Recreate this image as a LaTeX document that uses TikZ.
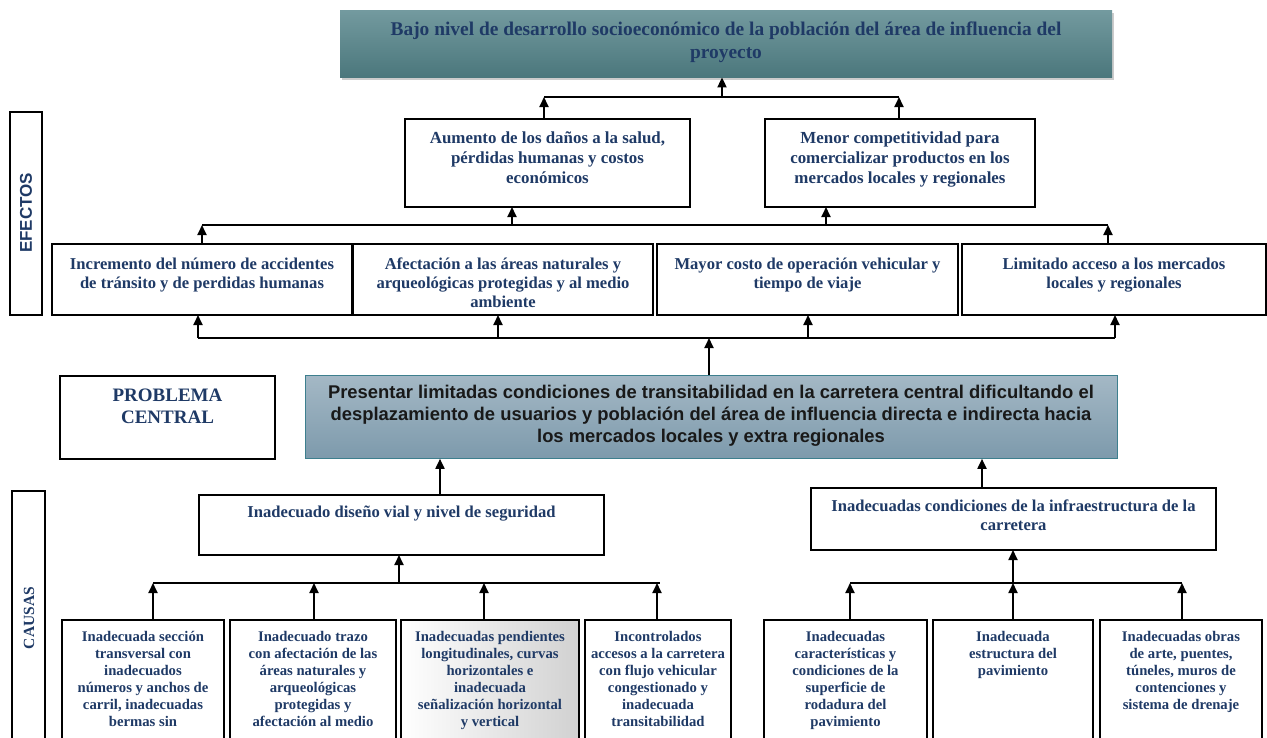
\documentclass[tikz,border=0pt]{standalone}
\usepackage{fontspec}
\setmainfont{Liberation Serif}
\setsansfont{Liberation Sans}
\usetikzlibrary{arrows.meta,shadows}
\definecolor{txtblue}{HTML}{1F3A66}
\definecolor{teallight}{HTML}{739A9F}
\definecolor{tealdark}{HTML}{4B777C}
\definecolor{cenlight}{HTML}{A4B8C5}
\definecolor{cendark}{HTML}{7D9AAC}
\definecolor{cenborder}{HTML}{3D7F8E}
\newcommand\mlines[1]{\begin{tabular}[t]{@{}c@{}}#1\end{tabular}}
\newcommand\putcard[6][]{\node[card,#1,minimum width={(#5)-(#3)},minimum height={(#6)-(#4)}] (#2) at (#3,#4) {};}
\begin{document}
\begin{tikzpicture}[x=1pt,y=-1pt,
  card/.style={draw=black, line width=1.5pt, fill=white, anchor=north west, inner sep=0pt, outer sep=0pt},
  txt/.style={anchor=base, inner sep=0pt, text=txtblue},
  fA/.style={font=\bfseries\fontsize{19.4}{23}\selectfont},
  fB/.style={font=\bfseries\fontsize{16.9}{20}\selectfont},
  fC/.style={font=\bfseries\fontsize{16.6}{19}\selectfont},
  fD/.style={font=\bfseries\fontsize{14.7}{17}\selectfont},
  fP/.style={font=\bfseries\fontsize{19}{22}\selectfont},
  bus/.style={line width=2pt},
  arr/.style={line width=1.8pt, -{Triangle[length=10pt,width=9pt]}}]
\useasboundingbox (0,0) rectangle (1267,737);
\clip (0,0) rectangle (1267,737);
\fill[white] (0,0) rectangle (1267,737);

% top effect
\node[draw=none, top color=teallight, bottom color=tealdark, anchor=north west, inner sep=0pt,
  minimum width=772, minimum height=67,
  drop shadow={shadow xshift=2pt, shadow yshift=-3pt, opacity=0.4}] (top) at (340,10) {};
\node[txt,fA] (topt) at (726,35) {\mlines{Bajo nivel de desarrollo socioeconómico de la población del área de influencia del\\proyecto}};

% row 2
\putcard{r2a}{405}{119}{690}{207}
\putcard{r2b}{765}{119}{1035}{207}
\node[txt,fB] (r2at) at (547.5,143) {\mlines{Aumento de los daños a la salud,\\pérdidas humanas y costos\\económicos}};
\node[txt,fB] (r2bt) at (900,143) {\mlines{Menor competitividad para\\comercializar productos en los\\mercados locales y regionales}};

% row 3
\putcard{r3a}{52}{244}{352}{315}
\putcard{r3b}{353}{244}{653}{315}
\putcard{r3c}{657}{244}{958}{315}
\putcard{r3d}{962}{244}{1266}{315}
\node[txt,fC] (r3at) at (202,269) {\mlines{Incremento del número de accidentes\\de tránsito y de perdidas humanas}};
\node[txt,fC] (r3bt) at (503,269) {\mlines{Afectación a las áreas naturales y\\arqueológicas protegidas y al medio\\ambiente}};
\node[txt,fC] (r3ct) at (807.5,269) {\mlines{Mayor costo de operación vehicular y\\tiempo de viaje}};
\node[txt,fC] (r3dt) at (1114,269) {\mlines{Limitado acceso a los mercados\\locales y regionales}};

% side labels
\putcard{ef}{10}{112}{42}{315}
\node[rotate=90, text=txtblue, font=\sffamily\bfseries\fontsize{17}{20}\selectfont, inner sep=0pt] (eft) at (26,213) {EFECTOS};
\putcard{ca}{12}{491}{45}{760}
\node[rotate=90, text=txtblue, font=\bfseries\fontsize{15.5}{18}\selectfont, inner sep=0pt] (cat) at (29,618) {CAUSAS};

% problem central
\putcard{pc}{60}{376}{275}{459}
\node[txt,fP] (pct) at (167.5,401) {\mlines{PROBLEMA\\CENTRAL}};
\node[draw=cenborder, line width=0.8pt, top color=cenlight, bottom color=cendark, anchor=north west, inner sep=0pt,
  minimum width=812, minimum height=83] (cen) at (305,375) {};
\node[anchor=base, inner sep=0pt, text=black!90, font=\sffamily\bfseries\fontsize{18.4}{22}\selectfont] (cent) at (711,398)
  {\mlines{Presentar limitadas condiciones de transitabilidad en la carretera central dificultando el\\desplazamiento de usuarios y población del área de influencia directa e indirecta hacia\\los mercados locales y extra regionales}};

% causes
\putcard{c1}{199}{495}{604}{555}
\putcard{c2}{811}{488}{1216}{550}
\node[txt,fC] (c1t) at (401.5,517) {\mlines{Inadecuado diseño vial y nivel de seguridad}};
\node[txt,fC] (c2t) at (1013.5,511) {\mlines{Inadecuadas condiciones de la infraestructura de la\\carretera}};

% bottom causes
\putcard{b1}{62}{620}{224}{760}
\putcard{b2}{230}{620}{396}{760}
\putcard[left color=white, right color=black!18]{b3}{401}{620}{579}{760}
\putcard{b4}{585}{620}{731}{760}
\putcard{b5}{764}{620}{927}{760}
\putcard{b6}{933}{620}{1093}{760}
\putcard{b7}{1100}{620}{1262}{760}
\node[txt,fD] (b1t) at (143,641) {\mlines{Inadecuada sección\\transversal con\\inadecuados\\números y anchos de\\carril, inadecuadas\\bermas sin}};
\node[txt,fD] (b2t) at (313,641) {\mlines{Inadecuado trazo\\con afectación de las\\áreas naturales y\\arqueológicas\\protegidas y\\afectación al medio}};
\node[txt,fD] (b3t) at (490,641) {\mlines{Inadecuadas pendientes\\longitudinales, curvas\\horizontales e\\inadecuada\\señalización horizontal\\y vertical}};
\node[txt,fD] (b4t) at (658,641) {\mlines{Incontrolados\\accesos a la carretera\\con flujo vehicular\\congestionado y\\inadecuada\\transitabilidad}};
\node[txt,fD] (b5t) at (845.5,641) {\mlines{Inadecuadas\\características y\\condiciones de la\\superficie de\\rodadura del\\pavimiento}};
\node[txt,fD] (b6t) at (1013,641) {\mlines{Inadecuada\\estructura del\\pavimiento}};
\node[txt,fD] (b7t) at (1181,641) {\mlines{Inadecuadas obras\\de arte, puentes,\\túneles, muros de\\contenciones y\\sistema de drenaje}};

% connectors top
\coordinate (t1) at (544,97);
\coordinate (t2) at (899,97);
\coordinate (t0) at (722,97);
\draw[bus] (t1) -- (t2);
\draw[arr] (r2a.north -| t1) -- (t1);
\draw[arr] (r2b.north -| t2) -- (t2);
\draw[arr] (t0) -- (top.south -| t0);

% connectors middle
\coordinate (m1) at (202,225);
\coordinate (m2) at (1108,225);
\coordinate (m3) at (512,225);
\coordinate (m4) at (826,225);
\draw[bus] (m1) -- (m2);
\draw[arr] (r3a.north -| m1) -- (m1);
\draw[arr] (r3d.north -| m2) -- (m2);
\draw[arr] (m3) -- (r2a.south -| m3);
\draw[arr] (m4) -- (r2b.south -| m4);

% connectors lower
\coordinate (l1) at (198,338);
\coordinate (l2) at (498,338);
\coordinate (l3) at (808,338);
\coordinate (l4) at (1115,338);
\coordinate (l0) at (709,338);
\draw[bus] (l1) -- (l4);
\draw[arr] (l1) -- (r3a.south -| l1);
\draw[arr] (l2) -- (r3b.south -| l2);
\draw[arr] (l3) -- (r3c.south -| l3);
\draw[arr] (l4) -- (r3d.south -| l4);
\draw[arr] (cen.north -| l0) -- (l0);

% causes to central
\coordinate (k1) at (440,470);
\coordinate (k2) at (982,470);
\draw[arr] (c1.north -| k1) -- (cen.south -| k1);
\draw[arr] (c2.north -| k2) -- (cen.south -| k2);

% left cause bus
\coordinate (p1) at (153,583);
\coordinate (p2) at (314,583);
\coordinate (p3) at (484,583);
\coordinate (p4) at (657,583);
\coordinate (pe) at (660,583);
\coordinate (p0) at (399,583);
\draw[bus] (p1) -- (pe);
\draw[arr] (p0) -- (c1.south -| p0);
\draw[arr] (b1.north -| p1) -- (p1);
\draw[arr] (b2.north -| p2) -- (p2);
\draw[arr] (b3.north -| p3) -- (p3);
\draw[arr] (b4.north -| p4) -- (p4);

% right cause bus
\coordinate (q1) at (850,583);
\coordinate (q2) at (1013,583);
\coordinate (q3) at (1182,583);
\draw[bus] (q1) -- (q3);
\draw[arr] (q2) -- (c2.south -| q2);
\draw[arr] (b5.north -| q1) -- (q1);
\draw[arr] (b6.north -| q2) -- (q2);
\draw[arr] (b7.north -| q3) -- (q3);
\end{tikzpicture}
\end{document}
